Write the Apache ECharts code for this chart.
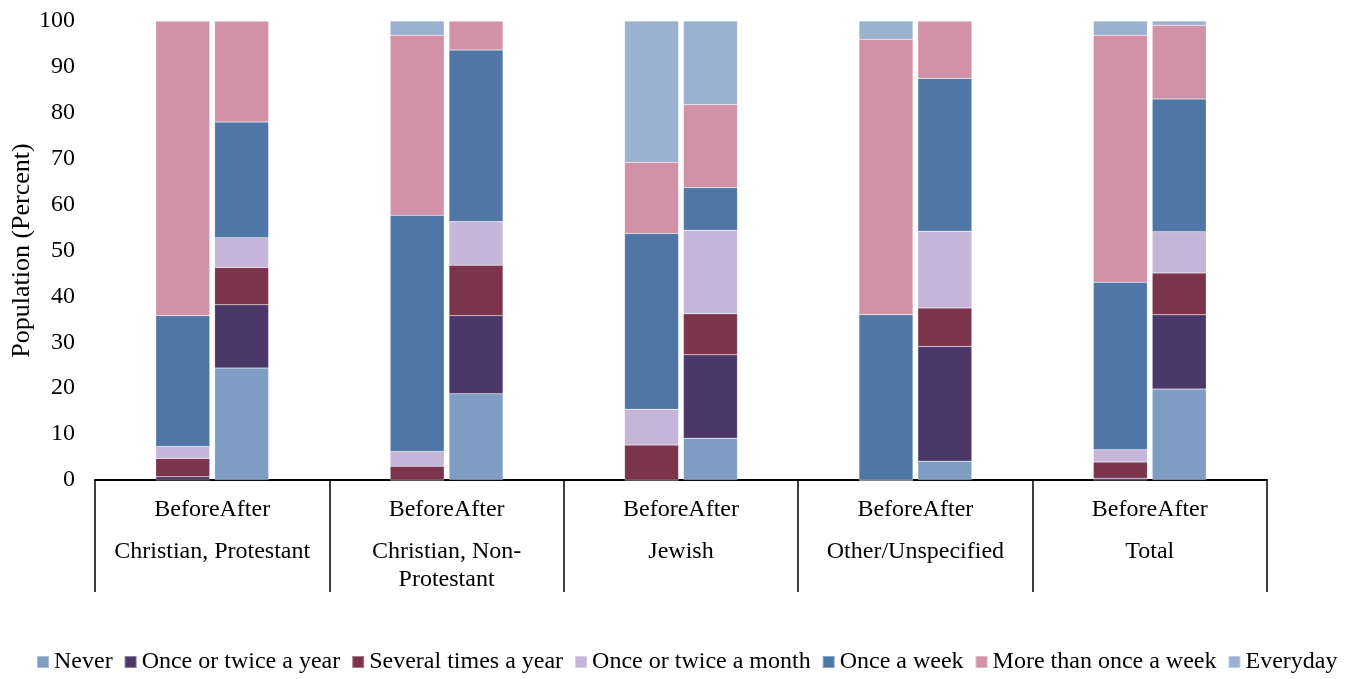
<!DOCTYPE html>
<html>
<head>
<meta charset="utf-8">
<script src="https://cdn.jsdelivr.net/npm/echarts@6/dist/echarts.min.js"></script>
<style>
  html, body { margin: 0; padding: 0; background: #fff; }
  #chart { width: 1355px; height: 679px; }
</style>
</head>
<body>
<div id="chart"></div>
<script>
// Religious groups on the category axis
const groups = ['Christian, Protestant', 'Christian, Non-\nProtestant', 'Jewish', 'Other/Unspecified', 'Total'];
const periods = ['Before', 'After'];
const frequencies = ['Never', 'Once or twice a year', 'Several times a year', 'Once or twice a month', 'Once a week', 'More than once a week', 'Everyday'];
const colors = ['#7f9dc3', '#4b3869', '#7b344b', '#c5b5d8', '#4f76a5', '#d191a6', '#9bb1d0'];

// Share of population (%) per frequency, one array per group order above
const beforeNever      = [0.0, 0.0, 0.0, 0.0, 0.0];
const beforeYearly     = [0.7, 0.0, 0.0, 0.0, 0.4];
const beforeSeveral    = [4.0, 3.0, 7.6, 0.0, 3.5];
const beforeMonthly    = [2.6, 3.2, 7.8, 0.0, 2.7];
const beforeWeekly     = [28.5, 51.5, 38.3, 36.0, 36.5];
const beforeMoreWeekly = [64.2, 39.2, 15.5, 60.0, 53.8];
const beforeEveryday   = [0.0, 3.1, 30.8, 4.0, 3.1];

const afterNever      = [24.4, 18.8, 9.1, 4.1, 19.8];
const afterYearly     = [13.8, 17.0, 18.2, 25.0, 16.2];
const afterSeveral    = [8.1, 11.0, 8.9, 8.4, 9.1];
const afterMonthly    = [6.5, 9.5, 18.2, 16.7, 9.0];
const afterWeekly     = [25.2, 37.4, 9.3, 33.3, 28.9];
const afterMoreWeekly = [22.0, 6.3, 18.1, 12.5, 16.1];
const afterEveryday   = [0.0, 0.0, 18.2, 0.0, 0.9];

const beforeData = [beforeNever, beforeYearly, beforeSeveral, beforeMonthly, beforeWeekly, beforeMoreWeekly, beforeEveryday];
const afterData = [afterNever, afterYearly, afterSeveral, afterMonthly, afterWeekly, afterMoreWeekly, afterEveryday];

const font = 'Liberation Serif';
const fs = 24;

function makeSeries(stackName, dataSet) {
  return frequencies.map((name, i) => ({
    name: name,
    type: 'bar',
    stack: stackName,
    barWidth: 54,
    barGap: '9%',
    data: dataSet[i],
    itemStyle: { color: colors[i], borderColor: 'rgba(255,255,255,0.35)', borderWidth: 0.5 }
  }));
}

const chart = echarts.init(document.getElementById('chart'));
chart.setOption({
  animation: false,
  textStyle: { fontFamily: font },
  grid: { left: 95, right: 88, top: 21, bottom: 199, outerBoundsMode: 'none', containLabel: false },
  legend: {
    data: frequencies,
    bottom: 0,
    left: 31,
    icon: 'rect',
    itemWidth: 12,
    itemHeight: 12,
    itemGap: 11,
    textStyle: { fontFamily: font, fontSize: fs, color: '#000' }
  },
  xAxis: {
    type: 'category',
    data: groups,
    axisLine: { lineStyle: { color: '#000', width: 2 } },
    axisTick: { show: true, length: 112, lineStyle: { color: '#000', width: 1.5 } },
    axisLabel: {
      interval: 0,
      margin: 1,
      formatter: function (v) {
        const lines = v.split('\n').map(s => '{b|' + s + '}').join('\n');
        return '{a|' + periods.join('') + '}\n' + lines;
      },
      rich: {
        a: { fontFamily: font, fontSize: fs, color: '#000', lineHeight: 57 },
        b: { fontFamily: font, fontSize: fs, color: '#000', lineHeight: 28 }
      }
    }
  },
  yAxis: {
    type: 'value',
    min: 0,
    max: 100,
    interval: 10,
    name: 'Population (Percent)',
    nameLocation: 'middle',
    nameGap: 60,
    nameMoveOverlap: false,
    nameTextStyle: { fontFamily: font, fontSize: 26, color: '#000' },
    axisLine: { show: false },
    axisTick: { show: false },
    splitLine: { show: false },
    axisLabel: { fontFamily: font, fontSize: fs, color: '#000', margin: 20 }
  },
  series: makeSeries('before', beforeData).concat(makeSeries('after', afterData))
});
</script>
</body>
</html>
